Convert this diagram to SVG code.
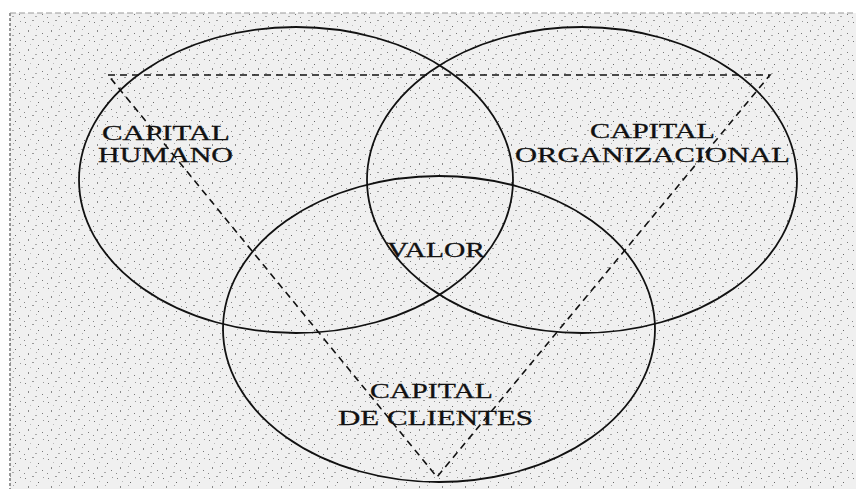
<svg xmlns="http://www.w3.org/2000/svg" width="856" height="489" viewBox="0 0 856 489">
<defs>
<pattern id="speck" width="23" height="19" patternUnits="userSpaceOnUse">
<rect width="23" height="19" fill="#f0f0f0"/>
<rect x="2" y="3" width="1" height="1" fill="#777"/>
<rect x="9" y="1" width="2" height="1" fill="#999"/>
<rect x="15" y="7" width="1" height="1" fill="#666"/>
<rect x="5" y="11" width="1" height="2" fill="#888"/>
<rect x="19" y="14" width="1" height="1" fill="#777"/>
<rect x="12" y="16" width="2" height="1" fill="#aaa"/>
<rect x="7" y="6" width="1" height="1" fill="#bbb"/>
<rect x="20" y="2" width="1" height="1" fill="#999"/>
<rect x="1" y="17" width="1" height="1" fill="#888"/>
<rect x="13" y="10" width="1" height="1" fill="#aaa"/>
</pattern>
</defs>
<style>
.ell{fill:none;stroke:#111;stroke-width:1.8}
.tri{fill:none;stroke:#111;stroke-width:1.6;stroke-dasharray:7 5}
text{font-family:"Liberation Serif","Times New Roman",serif;font-size:21px;fill:#111;stroke:#111;stroke-width:0.3}
</style>
<rect width="856" height="489" fill="#fff"/>
<rect x="10" y="13" width="846" height="476" fill="url(#speck)"/>
<line x1="10" y1="13" x2="10" y2="489" stroke="#555" stroke-width="1.2" stroke-dasharray="3 2"/>
<line x1="10" y1="13" x2="856" y2="13" stroke="#999" stroke-width="1" stroke-dasharray="6 3"/>
<g id="connectors">
<polygon class="tri" points="108,75 770,75 437,477"/>
</g>
<g id="humano">
<ellipse class="ell" cx="296" cy="180" rx="217" ry="153"/>
<text x="102" y="140" textLength="128" lengthAdjust="spacingAndGlyphs">CAPITAL</text>
<text x="98" y="162" textLength="135" lengthAdjust="spacingAndGlyphs">HUMANO</text>
</g>
<g id="organizacional">
<ellipse class="ell" cx="582" cy="180" rx="215" ry="153"/>
<text x="590" y="138" textLength="125" lengthAdjust="spacingAndGlyphs">CAPITAL</text>
<text x="515" y="162" textLength="275" lengthAdjust="spacingAndGlyphs">ORGANIZACIONAL</text>
</g>
<g id="clientes">
<ellipse class="ell" cx="439" cy="329" rx="216" ry="153"/>
<text x="370" y="398" textLength="123" lengthAdjust="spacingAndGlyphs">CAPITAL</text>
<text x="338" y="425" textLength="195" lengthAdjust="spacingAndGlyphs">DE CLIENTES</text>
</g>
<g id="valor">
<text x="387" y="257" textLength="98" lengthAdjust="spacingAndGlyphs">VALOR</text>
</g>
</svg>
